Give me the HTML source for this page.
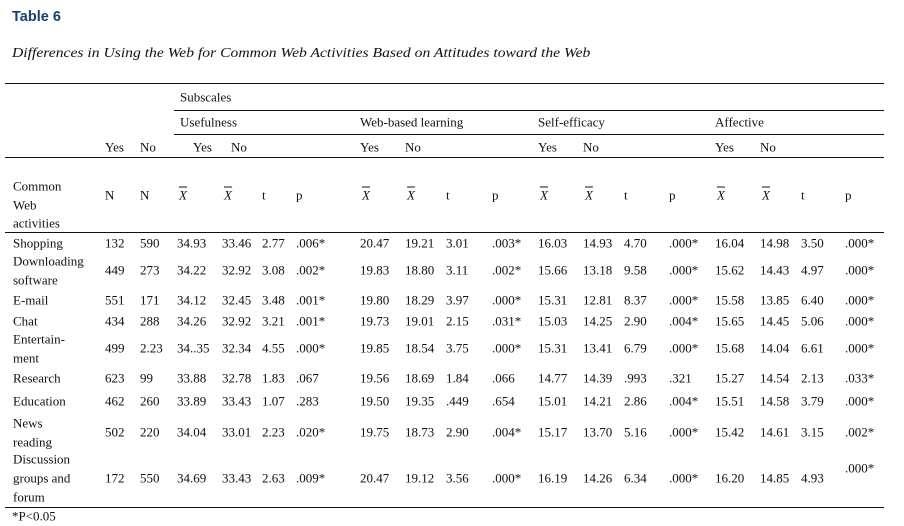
<!DOCTYPE html>
<html><head><meta charset="utf-8">
<style>
body{margin:0;width:904px;height:526px;background:#fff;position:relative;overflow:hidden;font-family:"Liberation Serif",serif;font-size:13px;color:#111}
.t{position:absolute;white-space:nowrap;line-height:1;transform:translateY(-50%)}
.l{position:absolute;height:1px;background:#111}
.xb{font-style:italic;text-decoration:overline}
</style></head><body>
<div class="t" style="left:12px;top:17px;font-family:'Liberation Sans',sans-serif;font-weight:bold;font-size:14.5px;color:#1d3f6e">Table 6</div>
<div class="t" style="left:12px;top:53px;font-style:italic;font-size:13.6px;transform:translateY(-50%) scaleX(1.15);transform-origin:left center">Differences in Using the Web for Common Web Activities Based on Attitudes toward the Web</div>
<div class="l" style="left:5px;width:879px;top:83px"></div>
<div class="l" style="left:174px;width:710px;top:110px"></div>
<div class="l" style="left:174px;width:710px;top:134px"></div>
<div class="l" style="left:5px;width:879px;top:157px"></div>
<div class="l" style="left:5px;width:879px;top:232px"></div>
<div class="l" style="left:5px;width:879px;top:507px"></div>
<div class="t" style="left:12px;top:516px">*P&lt;0.05</div>
<div id="tbl"></div>
<script>
const colX=[105,140,177,222,262,296,360,405,446,492,538,583,624,669,715,760,801,845];
const groupHeaders=[["Subscales",180,97],["Usefulness",180,122],["Web-based learning",360,122],["Self-efficacy",538,122],["Affective",715,122]];
const yesNo=[["Yes",105],["No",140],["Yes",193],["No",231],["Yes",360],["No",405],["Yes",538],["No",583],["Yes",715],["No",760]];
const statHdr=["N","N","X","X","t","p","X","X","t","p","X","X","t","p","X","X","t","p"];
const labels=[["Shopping"],["Downloading","software"],["E-mail"],["Chat"],["Entertain-","ment"],["Research"],["Education"],["News","reading"],["Discussion","groups and","forum"]];
const rowY=[243,270,300,321,348,378,401,432,478];
const rows=[
["132","590","34.93","33.46","2.77",".006*","20.47","19.21","3.01",".003*","16.03","14.93","4.70",".000*","16.04","14.98","3.50",".000*"],
["449","273","34.22","32.92","3.08",".002*","19.83","18.80","3.11",".002*","15.66","13.18","9.58",".000*","15.62","14.43","4.97",".000*"],
["551","171","34.12","32.45","3.48",".001*","19.80","18.29","3.97",".000*","15.31","12.81","8.37",".000*","15.58","13.85","6.40",".000*"],
["434","288","34.26","32.92","3.21",".001*","19.73","19.01","2.15",".031*","15.03","14.25","2.90",".004*","15.65","14.45","5.06",".000*"],
["499","2.23","34..35","32.34","4.55",".000*","19.85","18.54","3.75",".000*","15.31","13.41","6.79",".000*","15.68","14.04","6.61",".000*"],
["623","99","33.88","32.78","1.83",".067","19.56","18.69","1.84",".066","14.77","14.39",".993",".321","15.27","14.54","2.13",".033*"],
["462","260","33.89","33.43","1.07",".283","19.50","19.35",".449",".654","15.01","14.21","2.86",".004*","15.51","14.58","3.79",".000*"],
["502","220","34.04","33.01","2.23",".020*","19.75","18.73","2.90",".004*","15.17","13.70","5.16",".000*","15.42","14.61","3.15",".002*"],
["172","550","34.69","33.43","2.63",".009*","20.47","19.12","3.56",".000*","16.19","14.26","6.34",".000*","16.20","14.85","4.93",".000*"]];
const root=document.getElementById('tbl');
function add(txt,x,y,name,cls){const d=document.createElement('div');d.className='t'+(cls?' '+cls:'');d.textContent=txt;d.style.left=x+'px';d.style.top=y+'px';


root.appendChild(d);}
groupHeaders.forEach(g=>add(g[0],g[1],g[2],'group-header'));
yesNo.forEach(g=>add(g[0],g[1],147,'yes-no-header'));
["Common","Web","activities"].forEach((s,i)=>add(s,13,186+i*18.5,'activities-header'));
statHdr.forEach((s,i)=>add(s,colX[i]+(s==='X'?2:0),195,'stat-header',s==='X'?'xb':''));
labels.forEach((lines,r)=>{const n=lines.length;lines.forEach((s,i)=>add(s,13,rowY[r]+(i-(n-1)/2)*19,'activity-label'));});
rows.forEach((row,r)=>row.forEach((v,c)=>{let y=rowY[r];if(r===8&&c===17)y=468;add(v,colX[c],y,'cell-value');}));
</script>
</body></html>
